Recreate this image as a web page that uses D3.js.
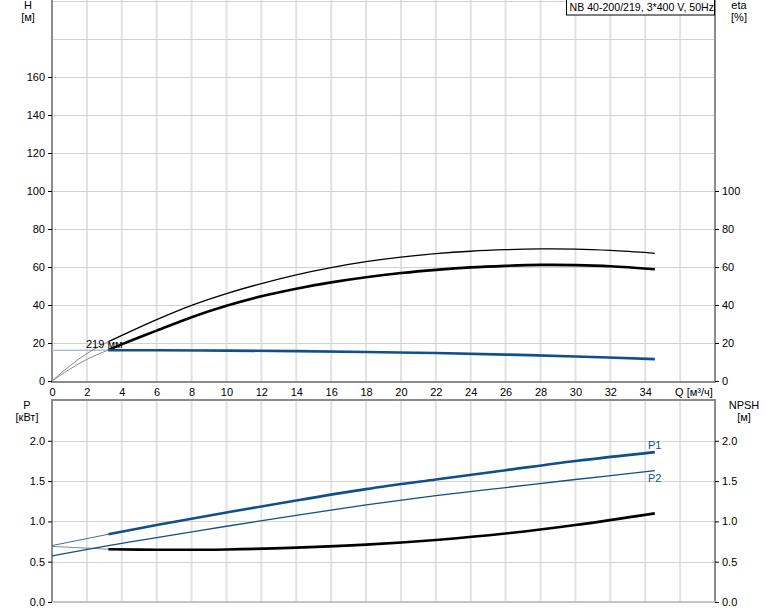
<!DOCTYPE html>
<html>
<head>
<meta charset="utf-8">
<style>
body { margin: 0; background: #fff; }
svg { display: block; font-family: "Liberation Sans", Arial, sans-serif; font-size: 11px; }
.grid-v { stroke: #e2e2e2; stroke-width: 2; }
.grid-h { stroke: #d2d2d2; stroke-width: 1.2; }
.frame { stroke: #8c8c8c; stroke-width: 2; }
</style>
</head>
<body>
<svg width="774" height="611"></svg>
<script src="https://d3js.org/d3.v7.min.js"></script>
<script>

// ---- data ----
var qTicks = [0, 2, 4, 6, 8, 10, 12, 14, 16, 18, 20, 22, 24, 26, 28, 30, 32, 34];
var hTicks = [0, 20, 40, 60, 80, 100, 120, 140, 160];
var etaTicks = [0, 20, 40, 60, 80, 100];
var pTicks = [0, 0.5, 1.0, 1.5, 2.0];

var qExt = [0, 3.23];
var qEtaExt = [0, 1, 2, 3.23];
var qEta = [3.23, 4, 6, 8, 10, 12, 14, 16, 18, 20, 22, 24, 26, 28, 30, 32, 34.55];
var qMain = [3.23, 6, 10, 14, 18, 22, 26, 30, 34.55];
var qP2 = [0, 3.23, 6, 10, 14, 18, 22, 26, 30, 34.55];

var hExt = [16.1, 16.2];
var hMain = [16.2, 16.2, 16.0, 15.7, 15.3, 14.7, 13.9, 12.9, 11.5];

var eta1Ext = [0, 7.8, 14.5, 20.7];
var eta1 = [20.7, 24.0, 32.3, 39.8, 46.0, 51.3, 55.9, 59.7, 62.8, 65.2, 67.0, 68.3, 69.1, 69.5, 69.4, 68.7, 67.2];
var eta2Ext = [0, 6.1, 11.4, 16.3];
var eta2 = [16.3, 19.3, 26.5, 33.6, 39.6, 44.6, 48.6, 51.9, 54.6, 56.8, 58.5, 59.8, 60.6, 61.1, 61.0, 60.4, 58.8];

var p1Ext = [0.70, 0.84];
var p1 = [0.84, 0.955, 1.11, 1.26, 1.40, 1.52, 1.635, 1.75, 1.86];
var p2 = [0.571, 0.70, 0.80, 0.94, 1.075, 1.205, 1.32, 1.42, 1.52, 1.63];
var npshExt = [0.69, 0.655];
var npsh = [0.655, 0.648, 0.652, 0.675, 0.712, 0.77, 0.85, 0.955, 1.10];

var blue = "#0f4f8c";

var svg = d3.select("svg");

var left = 52, right = 715;
var x = d3.scaleLinear().domain([0, 38]).range([left, right]);
var yH = d3.scaleLinear().domain([0, 200]).range([381, 1]);
var yP = d3.scaleLinear().domain([0, 2.5]).range([602, 400.5]);

function zip(qs, vs) {
  return qs.map(function(q, i) { return [q, vs[i]]; });
}

// ---- grids ----
var gridX = d3.range(2, 38, 2);

function drawGrid(yScale, top, bottom, hVals) {
  var g = svg.append("g");
  g.selectAll(".v").data(gridX).enter().append("line")
    .attr("class", "grid-v")
    .attr("x1", function(d) { return x(d); }).attr("x2", function(d) { return x(d); })
    .attr("y1", top).attr("y2", bottom);
  g.selectAll(".h").data(hVals).enter().append("line")
    .attr("class", "grid-h")
    .attr("x1", left).attr("x2", right)
    .attr("y1", function(d) { return Math.round(yScale(d)) + 0.5; })
    .attr("y2", function(d) { return Math.round(yScale(d)) + 0.5; });
}

drawGrid(yH, 0, 381, d3.range(20, 201, 20));
drawGrid(yP, 400, 602, [0.5, 1.0, 1.5, 2.0]);

// ---- frames ----
svg.append("line").attr("class", "frame").attr("x1", left).attr("x2", left).attr("y1", 0).attr("y2", 382);
svg.append("line").attr("class", "frame").attr("x1", right).attr("x2", right).attr("y1", 0).attr("y2", 382);
svg.append("line").attr("class", "frame").attr("x1", left - 1).attr("x2", right + 1).attr("y1", 382).attr("y2", 382);

svg.append("line").attr("class", "frame").attr("x1", left).attr("x2", left).attr("y1", 400).attr("y2", 603);
svg.append("line").attr("class", "frame").attr("x1", right).attr("x2", right).attr("y1", 400).attr("y2", 603);
svg.append("line").attr("class", "frame").attr("x1", left - 1).attr("x2", right + 1).attr("y1", 400).attr("y2", 400);
svg.append("line").attr("x1", left).attr("x2", right).attr("y1", 602).attr("y2", 602)
  .attr("stroke", "#c4c4c4").attr("stroke-width", 2);

// ---- axes ----
function styleAxis(g) {
  g.select(".domain").remove();
  g.selectAll(".tick line").attr("stroke", "#000");
  g.selectAll(".tick text").attr("fill", "#000")
    .style("font-family", "\"Liberation Sans\", Arial, sans-serif").style("font-size", "11px");
}

svg.append("g").attr("transform", "translate(" + left + ",0)")
  .call(d3.axisLeft(yH).tickValues(hTicks).tickSize(4).tickPadding(3))
  .call(styleAxis);
svg.append("g").attr("transform", "translate(" + right + ",0)")
  .call(d3.axisRight(yH).tickValues(etaTicks).tickSize(4).tickPadding(3))
  .call(styleAxis);
svg.append("g").attr("transform", "translate(" + left + ",0)")
  .call(d3.axisLeft(yP).tickValues(pTicks).tickSize(4).tickPadding(3).tickFormat(d3.format(".1f")))
  .call(styleAxis);
svg.append("g").attr("transform", "translate(" + right + ",0)")
  .call(d3.axisRight(yP).tickValues(pTicks).tickSize(4).tickPadding(3).tickFormat(d3.format(".1f")))
  .call(styleAxis);
svg.append("g").attr("transform", "translate(0,383)")
  .call(d3.axisBottom(x).tickValues(qTicks).tickSize(0).tickPadding(5))
  .call(styleAxis);

svg.append("text").attr("x", x(36) - 5).attr("y", 396).text("Q [м³/ч]");

// axis titles
function title(xp, y1, t1, t2) {
  svg.append("text").attr("x", xp).attr("y", y1).attr("text-anchor", "middle").text(t1);
  svg.append("text").attr("x", xp).attr("y", y1 + 12).attr("text-anchor", "middle").text(t2);
}
title(28, 9, "H", "[м]");
title(739, 9, "eta", "[%]");
title(27, 409, "P", "[кВт]");
title(744, 409, "NPSH", "[м]");

// label box
svg.append("rect").attr("x", 566.5).attr("y", -1).attr("width", 148).attr("height", 16)
  .attr("fill", "#fff").attr("stroke", "#000").attr("stroke-width", 1);
svg.append("text").attr("x", 569.5).attr("y", 11).style("font-size", "10.6px")
  .text("NB 40-200/219, 3*400 V, 50Hz");

// ---- curves ----
function curve(qs, vs, yScale, color, width) {
  var line = d3.line()
    .x(function(d) { return x(d[0]); })
    .y(function(d) { return yScale(d[1]); })
    .curve(d3.curveCatmullRom.alpha(0.5));
  svg.append("path").datum(zip(qs, vs))
    .attr("d", line).attr("fill", "none")
    .attr("stroke", color).attr("stroke-width", width);
}

// top plot
curve(qExt, hExt, yH, "#a8b6c8", 1.2);
curve(qEtaExt, eta1Ext, yH, "#8a8a8a", 1);
curve(qEtaExt, eta2Ext, yH, "#8a8a8a", 1);
curve(qEta, eta1, yH, "#000", 1.3);
curve(qEta, eta2, yH, "#000", 2.6);
curve(qMain, hMain, yH, blue, 2.6);

svg.append("text").attr("x", 86).attr("y", 348).text("219 мм");

// bottom plot
curve(qExt, p1Ext, yP, "#3f6f9e", 1);
curve(qExt, npshExt, yP, "#8a8a8a", 1);
curve(qP2, p2, yP, blue, 1.3);
curve(qMain, p1, yP, blue, 2.6);
curve(qMain, npsh, yP, "#000", 2.6);

svg.append("text").attr("x", 648).attr("y", 449).attr("fill", blue).text("P1");
svg.append("text").attr("x", 648).attr("y", 482).attr("fill", blue).text("P2");

</script>
</body>
</html>
